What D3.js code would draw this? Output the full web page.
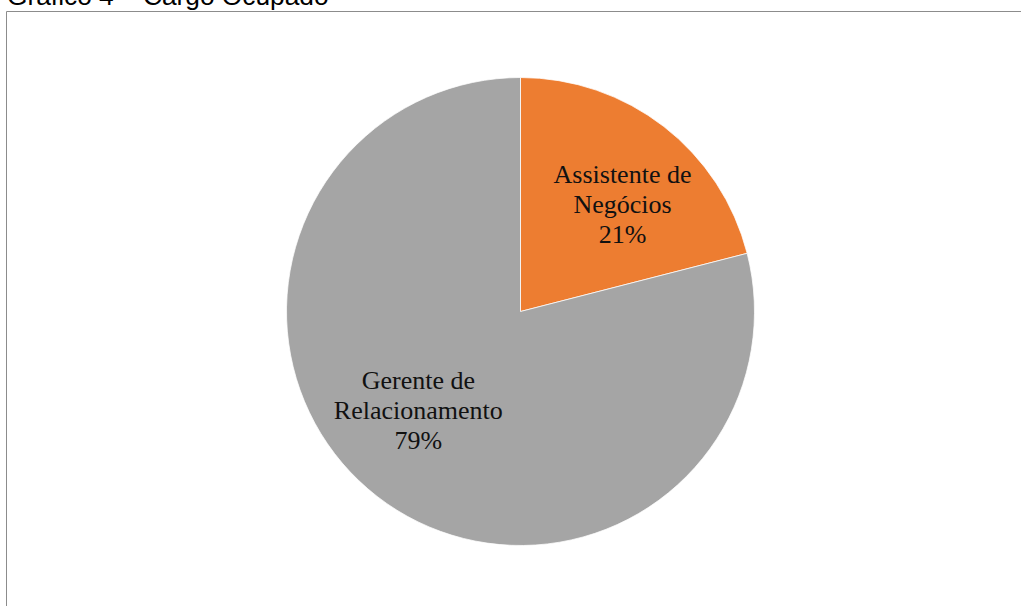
<!DOCTYPE html>
<html>
<head>
<meta charset="utf-8">
<script src="https://cdn.jsdelivr.net/npm/d3@7"></script>
<style>
  html, body { margin: 0; padding: 0; background: #fff; }
  svg { display: block; }
</style>
</head>
<body>
<svg id="chart" width="1021" height="606"></svg>
<script>
// Cargo ocupado: share of respondents by role
const categories = ["Assistente de Negócios", "Gerente de Relacionamento"];
const labelLines = [["Assistente de", "Negócios"], ["Gerente de", "Relacionamento"]];
const values = [21, 79];
const colors = ["#ED7D31", "#A5A5A5"];

const svg = d3.select("#chart");
const W = 1021, H = 606;

// Title, partly above the visible area
svg.append("text")
  .attr("x", 7).attr("y", 5)
  .attr("font-family", "Liberation Sans, Arial, sans-serif")
  .attr("font-size", 26.3)
  .attr("fill", "#000")
  .text("Gráfico 4 – Cargo Ocupado");

// Chart frame (top and left edges)
svg.append("path")
  .attr("d", `M${6.5},${H} L${6.5},${11.5} L${W},${11.5}`)
  .attr("fill", "none")
  .attr("stroke", "#8c8c8c")
  .attr("stroke-width", 1);

const cx = 520.5, cy = 311.5, r = 234;

const pie = d3.pie().sort(null).value(d => d.value);
const data = categories.map((c, i) => ({ name: c, value: values[i], lines: labelLines[i], color: colors[i] }));
const arcs = pie(data);

const arc = d3.arc().innerRadius(0).outerRadius(r);

const g = svg.append("g").attr("transform", `translate(${cx},${cy})`);

g.selectAll("path.slice")
  .data(arcs)
  .join("path")
  .attr("class", "slice")
  .attr("d", arc)
  .attr("fill", d => d.data.color)
  .attr("stroke", "#fff")
  .attr("stroke-width", 0.75);

// Label placement: polar position inside each slice (radius fraction, angle nudge in degrees)
const labelLayout = [{ rf: 0.632, dAng: 5.8 }, { rf: 0.607, dAng: 8.2 }];
function labelPos(d, i) {
  const a = (d.startAngle + d.endAngle) / 2 + labelLayout[i].dAng * Math.PI / 180;
  const rr = r * labelLayout[i].rf;
  return [rr * Math.sin(a), -rr * Math.cos(a)];
}

const labels = g.selectAll("text.lbl")
  .data(arcs)
  .join("text")
  .attr("class", "lbl")
  .attr("font-family", "Liberation Serif, Times New Roman, serif")
  .attr("font-size", 26)
  .attr("fill", "#111")
  .attr("text-anchor", "middle")
  .attr("transform", (d, i) => {
    const [x, y] = labelPos(d, i);
    return `translate(${x},${y})`;
  });

labels.each(function(d) {
  const t = d3.select(this);
  const lines = d.data.lines.concat([d3.format(".0f")(d.data.value) + "%"]);
  const lh = 30;
  const y0 = -lh * (lines.length - 1) / 2 + 9;
  lines.forEach((s, i) => {
    t.append("tspan").attr("x", 0).attr("y", y0 + i * lh).text(s);
  });
});
</script>
</body>
</html>
